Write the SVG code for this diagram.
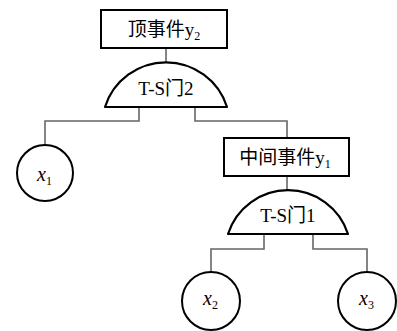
<svg xmlns="http://www.w3.org/2000/svg" width="397" height="331" viewBox="0 0 397 331">
  <style>
    .box { fill: #fff; stroke: #000; stroke-width: 2; }
    .gate { fill: #fff; stroke: #000; stroke-width: 2.2; stroke-linejoin: round; }
    .leaf { fill: #fff; stroke: #000; stroke-width: 2; }
    .wire { fill: none; stroke: #666; stroke-width: 1.6; }
    .lbl { font-family: "Liberation Serif", "Noto Sans CJK SC", serif; font-size: 19px; fill: #000; text-anchor: middle; }
    .var { font-family: "Liberation Serif", serif; font-style: italic; font-size: 20px; fill: #000; }
    .sub { font-family: "Liberation Serif", serif; font-size: 12px; fill: #000; }
  </style>

  <!-- connectors -->
  <g id="connectors">
    <path class="wire" d="M166,48 V63"/>
    <path class="wire" d="M139,107 V121 H45 V145"/>
    <path class="wire" d="M195,107 V121 H287 V138"/>
    <path class="wire" d="M287,176 V191"/>
    <path class="wire" d="M264,234 V249 H211 V272"/>
    <path class="wire" d="M313,234 V249 H367 V272"/>
  </g>

  <!-- top event -->
  <g id="top-event">
    <rect class="box" x="101" y="10" width="126" height="38"/>
    <text class="lbl" x="164" y="36">顶事件y<tspan class="sub" dy="4">2</tspan></text>
  </g>

  <!-- gate 2: circular segment -->
  <g id="gate2">
    <path class="gate" d="M105,107 A64,64 0 0 1 227,107 Z"/>
    <text class="lbl" x="166" y="95">T-S门2</text>
  </g>

  <!-- basic event x1 -->
  <g id="x1">
    <circle class="leaf" cx="45" cy="173" r="28"/>
    <text x="37" y="181"><tspan class="var">x</tspan><tspan class="sub" dy="4">1</tspan></text>
  </g>

  <!-- intermediate event -->
  <g id="mid-event">
    <rect class="box" x="224" y="138" width="125" height="38"/>
    <text class="lbl" x="285" y="164">中间事件y<tspan class="sub" dy="4">1</tspan></text>
  </g>

  <!-- gate 1: circular segment -->
  <g id="gate1">
    <path class="gate" d="M228,234 A63,63 0 0 1 348,234 Z"/>
    <text class="lbl" x="288" y="222">T-S门1</text>
  </g>

  <!-- basic event x2 -->
  <g id="x2">
    <circle class="leaf" cx="211" cy="301" r="29"/>
    <text x="203" y="305"><tspan class="var">x</tspan><tspan class="sub" dy="4">2</tspan></text>
  </g>

  <!-- basic event x3 -->
  <g id="x3">
    <circle class="leaf" cx="367" cy="301" r="29"/>
    <text x="359" y="305"><tspan class="var">x</tspan><tspan class="sub" dy="4">3</tspan></text>
  </g>
</svg>
